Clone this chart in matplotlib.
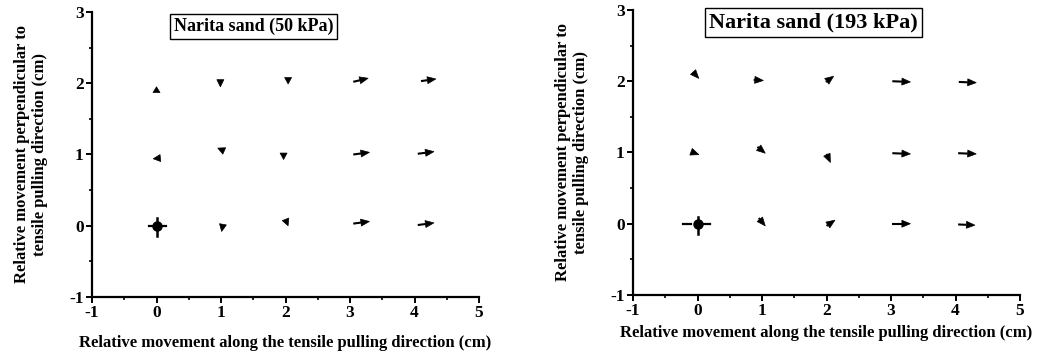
import matplotlib
matplotlib.use("Agg")
import matplotlib.pyplot as plt
import numpy as np

plt.rcParams["font.family"] = ["Liberation Serif", "DejaVu Serif"]
plt.rcParams["font.weight"] = "bold"
plt.rcParams["axes.unicode_minus"] = False

# Displacement arrows: tail (x0, y0) -> tip (x1, y1), in cm
# 50 kPa
a_x0 = [0.00, 0.99, 2.04, 3.05, 4.10,
        0.06, 1.05, 1.97, 3.05, 4.05,
        1.03, 2.00, 3.05, 4.05]
a_y0 = [1.87, 2.05, 2.08, 2.02, 2.03,
        0.95, 1.05, 1.02, 1.00, 1.01,
        0.02, 0.09, 0.03, 0.01]
a_x1 = [0.00, 0.99, 2.04, 3.28, 4.33,
        -0.05, 0.95, 1.97, 3.30, 4.30,
        1.01, 2.04, 3.30, 4.30]
a_y1 = [1.95, 1.95, 1.99, 2.07, 2.06,
        0.94, 1.09, 0.93, 1.03, 1.04,
        -0.08, 0.00, 0.06, 0.04]

# 193 kPa
b_x0 = [-0.07, 0.87, 1.99, 3.02, 4.05,
        -0.10, 0.93, 2.00, 3.02, 4.04,
        0.95, 2.00, 3.02, 4.04]
b_y0 = [2.13, 2.02, 1.99, 2.00, 1.99,
        1.01, 1.08, 0.98, 0.99, 0.99,
        0.08, -0.03, 0.00, -0.01]
b_x1 = [0.02, 1.02, 2.11, 3.30, 4.32,
        0.02, 1.05, 2.06, 3.30, 4.32,
        1.05, 2.13, 3.30, 4.30]
b_y1 = [2.04, 2.01, 2.07, 1.99, 1.98,
        0.97, 0.99, 0.86, 0.98, 0.98,
        -0.03, 0.05, 0.00, -0.02]

titles = ["Narita sand (50 kPa)", "Narita sand (193 kPa)"]
title_pos = [(1.5, 2.8), (1.8, 2.83)]
title_size = [13, 16]
xlabel = "Relative movement along the tensile pulling direction (cm)"
ylabel = "Relative movement perpendicular to\ntensile pulling direction (cm)"

# fixed reference point at the origin: crosshair extents (cm)
ref_h = [(-0.12, -0.05, 0.05, 0.14), (-0.22, -0.10, 0.10, 0.19)]
ref_v = [(-0.15, 0.11), (-0.15, 0.10)]

HEAD_PX = 8.5   # arrow head length in pixels; shorter moves are head only

fig = plt.figure(figsize=(10.43, 3.59), dpi=100)
ax_a = fig.add_axes([0.0882, 0.1727, 0.3711, 0.7939])
ax_b = fig.add_axes([0.6069, 0.1783, 0.3711, 0.7939])

panels = [
    (ax_a, a_x0, a_y0, a_x1, a_y1),
    (ax_b, b_x0, b_y0, b_x1, b_y1),
]


def draw_arrow(ax, xs, ys, xe, ye):
    tr = ax.transData
    p0 = tr.transform((xs, ys))
    p1 = tr.transform((xe, ye))
    d = p1 - p0
    length = np.hypot(*d)
    h = min(length, HEAD_PX)
    base = tr.inverted().transform(p1 - d / length * h)
    if length > h:
        ax.plot([xs, base[0]], [ys, base[1]], color="black", lw=1.5,
                solid_capstyle="butt")
    ax.annotate("", xy=(xe, ye), xytext=tuple(base),
                arrowprops=dict(arrowstyle="wedge,tail_width=0.5,shrink_factor=0.5",
                                color="black", lw=0.5, shrinkA=0, shrinkB=0,
                                mutation_scale=10))


for k, (ax, x0, y0, x1, y1) in enumerate(panels):
    ax.set_xlim(-1, 5)
    ax.set_ylim(-1, 3)
    ax.spines["top"].set_visible(False)
    ax.spines["right"].set_visible(False)
    for s in ("left", "bottom"):
        ax.spines[s].set_linewidth(1.6)
    ax.set_xticks(range(-1, 6))
    ax.set_yticks(range(-1, 4))
    ax.set_xticks([i + 0.5 for i in range(-1, 5)], minor=True)
    ax.set_yticks([i + 0.5 for i in range(-1, 3)], minor=True)
    ax.tick_params(which="major", direction="out", length=4, width=1.4,
                   labelsize=12.5, pad=2)
    ax.tick_params(which="minor", direction="out", length=2.5, width=1.2)
    for lab in ax.get_xticklabels() + ax.get_yticklabels():
        lab.set_fontweight("bold")

    for xs, ys, xe, ye in zip(x0, y0, x1, y1):
        draw_arrow(ax, xs, ys, xe, ye)

    # origin reference mark
    hl0, hl1, hr0, hr1 = ref_h[k]
    ax.plot([hl0, hl1], [0, 0], color="black", lw=1.6)
    ax.plot([hr0, hr1], [0, 0], color="black", lw=1.6)
    ax.plot([0, 0], ref_v[k], color="black", lw=1.8)
    ax.plot([0], [0], "o", color="black", ms=6.5)

    tx, ty = title_pos[k]
    ax.text(tx, ty, titles[k], ha="center", va="center", fontsize=title_size[k],
            fontweight="bold",
            bbox=dict(boxstyle="square,pad=0.2", fc="white", ec="black", lw=1))

    ax.set_ylabel(ylabel, fontsize=12, fontweight="bold", labelpad=15)

ax_a.set_xlabel(xlabel, fontsize=12, fontweight="bold", labelpad=10)
ax_b.set_xlabel(xlabel, fontsize=12, fontweight="bold", labelpad=4)

fig.savefig("out.png", dpi=100)
